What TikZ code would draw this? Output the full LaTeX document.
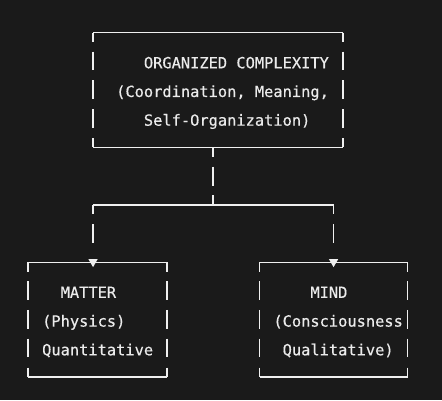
\documentclass[tikz,border=0pt]{standalone}
\usepackage{fontspec}
\setmonofont[FakeBold=0.4]{DejaVu Sans Mono}
\definecolor{bg}{HTML}{1A1A1A}
\definecolor{lc}{HTML}{EFEFEF}
\definecolor{tc}{HTML}{EBEBEB}
\tikzset{
  hl/.style={draw=lc, line width=1.3pt, line cap=butt},
  vl/.style={draw=lc, line width=1.8pt, line cap=butt},
  txt/.style={anchor=base west, inner sep=0pt, outer sep=0pt, text=tc,
    font=\ttfamily\fontsize{15.36}{18}\selectfont},
  tip/.style={fill=lc, draw=none}
}
\begin{document}
\begin{tikzpicture}[x=9.25pt, y=-28.7pt]
\fill[bg] (-3.059,-1.139) rectangle (44.724,12.798);
\useasboundingbox (-3.059,-1.139) rectangle (44.724,12.798);
% ---------- top box ----------
\draw[hl] (7,0) -- (34,0);
\foreach \c in {7,34} {
  \draw[vl] (\c,0) -- (\c,0.33);
  \foreach \r in {1,2,3} { \draw[vl] (\c,\r-0.34) -- (\c,\r+0.31); }
  \draw[vl] (\c,3.67) -- (\c,4);
}
\draw[hl] (7,4) -- (34,4);
\node[txt] (t1) at (12.5,1.24) {ORGANIZED COMPLEXITY};
\node[txt] (t2) at (9.5,2.24) {(Coordination, Meaning,};
\node[txt] (t3) at (12.5,3.24) {Self-Organization)};
% ---------- connector ----------
\draw[vl] (20,4) -- (20,4.33);
\draw[vl] (20,4.67) -- (20,5.33);
\draw[vl] (20,5.67) -- (20,6);
\draw[hl] (7,6) -- (33,6);
\foreach \c in {7,33} {
  \draw[vl] (\c,6) -- (\c,6.33);
  \draw[vl] (\c,6.67) -- (\c,7.33);
}
% ---------- lower boxes ----------
\foreach \a/\b in {0/15,25/41} {
  \draw[hl] (\a,8) -- (\b,8);
  \draw[hl] (\a,12) -- (\b,12);
  \foreach \c in {\a,\b} {
    \draw[vl] (\c,8) -- (\c,8.33);
    \foreach \r in {9,10,11} { \draw[vl] (\c,\r-0.34) -- (\c,\r+0.31); }
    \draw[vl] (\c,11.67) -- (\c,12);
  }
}
\foreach \c in {7,33} {
  \fill[tip] (\c-0.5,7.89) -- (\c+0.5,7.89) -- (\c,8.17) -- cycle;
}
\node[txt] (m1) at (3.5,9.24) {MATTER};
\node[txt] (m2) at (1.5,10.24) {(Physics)};
\node[txt] (m3) at (1.5,11.24) {Quantitative};
\node[txt] (n1) at (30.5,9.24) {MIND};
\node[txt] (n2) at (26.5,10.24) {(Consciousness};
\node[txt] (n3) at (27.5,11.24) {Qualitative)};
\end{tikzpicture}
\end{document}
